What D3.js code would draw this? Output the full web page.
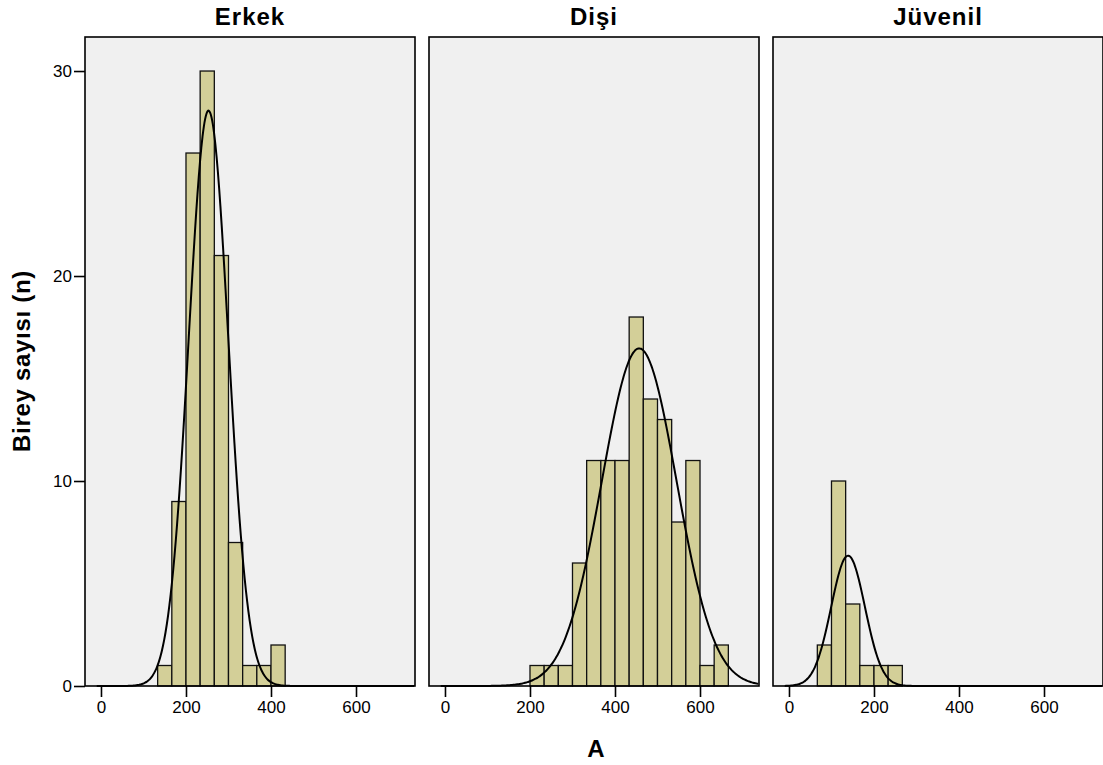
<!DOCTYPE html>
<html>
<head>
<meta charset="utf-8">
<script src="https://cdn.jsdelivr.net/npm/d3@7"></script>
<style>
  body { margin: 0; background: #fff; }
  text { font-family: "Liberation Sans", Arial, sans-serif; fill: #000; }
</style>
</head>
<body>
<div id="chart"></div>
<script>
// data
const groups = ["Erkek", "Dişi", "Jüvenil"]
const binWidth = 100 / 3
const binStarts = [
    [133.33, 166.67, 200, 233.33, 266.67, 300, 333.33, 366.67, 400],
    [200, 233.33, 266.67, 300, 333.33, 366.67, 400, 433.33, 466.67, 500, 533.33, 566.67, 600, 633.33],
    [66.67, 100, 133.33, 166.67, 200, 233.33]
]
const counts = [
    [1, 9, 26, 30, 21, 7, 1, 1, 2],
    [1, 1, 1, 6, 11, 11, 11, 18, 14, 13, 8, 11, 1, 2],
    [2, 10, 4, 1, 1, 1]
]
// fitted normal curve parameters
const means = [253, 457, 139]
const sds = [46.4, 88, 39.7]
const xTicks = [0, 200, 400, 600]
const yTicks = [0, 10, 20, 30]

const width = 1103, height = 765
const panelW = 330, gap = 14
const margin = {top: 37, left: 85, bottom: 79}
const plotBottom = height - margin.bottom

const svg = d3.select("#chart").append("svg")
    .attr("width", width)
    .attr("height", height)

const xScale = d3.scaleLinear()
    .domain([-37.6, 738.8])
    .range([0, panelW])

const yScale = d3.scaleLinear()
    .domain([0, 31.66])
    .range([plotBottom, margin.top])

const line = d3.line()
    .curve(d3.curveBasis)
    .x(d => xScale(d[0]))
    .y(d => yScale(d[1]))

groups.forEach((name, i) => {
    const g = svg.append("g")
        .attr("transform", `translate(${margin.left + i * (panelW + gap)},0)`)

    g.append("rect")
        .attr("x", 0).attr("y", margin.top)
        .attr("width", panelW).attr("height", plotBottom - margin.top)
        .attr("fill", "#f0f0f0")

    const bins = binStarts[i].map((s, j) => ({x0: s, x1: s + binWidth, n: counts[i][j]}))
    g.selectAll("rect.bar")
        .data(bins)
        .join("rect")
            .attr("class", "bar")
            .attr("x", d => xScale(d.x0))
            .attr("y", d => yScale(d.n))
            .attr("width", d => xScale(d.x1) - xScale(d.x0))
            .attr("height", d => yScale(0) - yScale(d.n))
            .attr("fill", "#d3cf98")
            .attr("stroke", "#111")
            .attr("stroke-width", 1.3)

    // normal curve scaled to counts
    const N = d3.sum(counts[i])
    const pdf = x => N * binWidth / (sds[i] * Math.sqrt(2 * Math.PI)) *
        Math.exp(-0.5 * ((x - means[i]) / sds[i]) ** 2)
    const pts = d3.range(-10, 739, 3).map(x => [x, pdf(x)])
    g.append("path")
        .datum(pts)
        .attr("d", line)
        .attr("fill", "none")
        .attr("stroke", "#000")
        .attr("stroke-width", 2)

    g.append("rect")
        .attr("x", 0).attr("y", margin.top)
        .attr("width", panelW).attr("height", plotBottom - margin.top)
        .attr("fill", "none")
        .attr("stroke", "#000")
        .attr("stroke-width", 1.6)

    // x axis
    const xAx = g.append("g")
        .attr("transform", `translate(0,${plotBottom})`)
        .call(d3.axisBottom(xScale).tickValues(xTicks).tickSize(11).tickPadding(4).tickFormat(d3.format("d")))
    xAx.select(".domain").remove()
    xAx.selectAll("line").attr("stroke", "#000").attr("stroke-width", 1.6)
    xAx.selectAll("text").style("font-size", "17px")
        .style("font-family", "'Liberation Sans', Arial, sans-serif")

    g.append("text")
        .attr("x", panelW / 2)
        .attr("y", 25)
        .attr("text-anchor", "middle")
        .style("font-size", "24px")
        .style("font-weight", "bold")
        .style("letter-spacing", "1px")
        .text(name)
})

// y axis
const yAx = svg.append("g")
    .attr("transform", `translate(${margin.left},0)`)
    .call(d3.axisLeft(yScale).tickValues(yTicks).tickSize(11).tickPadding(2))
yAx.select(".domain").remove()
yAx.selectAll("line").attr("stroke", "#000").attr("stroke-width", 1.6)
yAx.selectAll("text").style("font-size", "17px")
    .style("font-family", "'Liberation Sans', Arial, sans-serif")

svg.append("text")
    .attr("transform", "translate(30,361) rotate(-90)")
    .attr("text-anchor", "middle")
    .style("font-size", "24px")
    .style("font-weight", "bold")
    .style("letter-spacing", "0.7px")
    .text("Birey sayısı (n)")

svg.append("text")
    .attr("x", 596)
    .attr("y", 757)
    .attr("text-anchor", "middle")
    .style("font-size", "24px")
    .style("font-weight", "bold")
    .text("A")
</script>
</body>
</html>
